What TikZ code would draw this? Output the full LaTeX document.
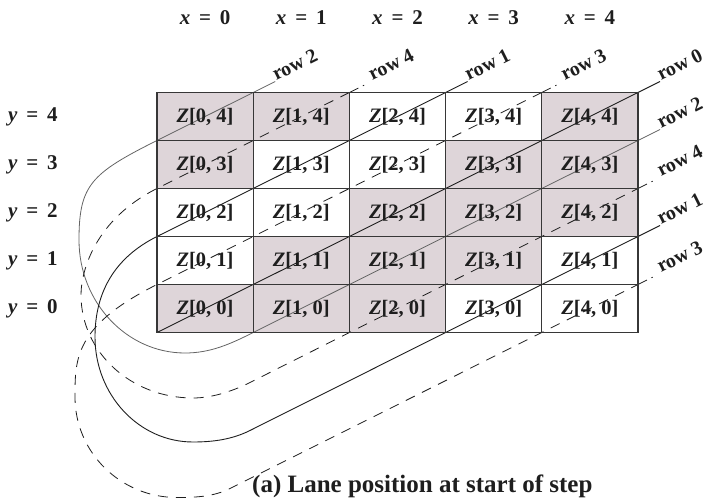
\documentclass[tikz,border=0pt]{standalone}
\usepackage{fontspec}
\setmainfont{Liberation Serif}
\usetikzlibrary{calc}
\definecolor{cellshade}{RGB}{222,213,217}
\definecolor{gridc}{RGB}{55,55,55}
\definecolor{grayline}{RGB}{100,100,100}
\definecolor{inkc}{RGB}{30,30,30}
\begin{document}
\begin{tikzpicture}[x=1pt,y=-1pt,
  lanecell/.style={draw=gridc,line width=1.2pt,minimum width=96.2pt,minimum height=48pt,inner sep=0pt,font=\fontsize{20.5}{21}\selectfont\bfseries,text=inkc},
  hdr/.style={font=\fontsize{21}{22}\selectfont\bfseries,text=inkc,inner sep=0pt},
  rowlbl/.style={font=\fontsize{20}{21}\selectfont\bfseries,text=inkc,rotate=26.5,anchor=base west,inner sep=1pt},
  solidrow/.style={inkc,line width=0.9pt},
  grayrow/.style={grayline,line width=0.8pt},
  dashrow/.style={inkc,line width=0.8pt,dash pattern=on 10pt off 8pt},
  dashext/.style={inkc,line width=0.8pt,dash pattern=on 10pt off 5pt on 1.5pt off 20pt},
  captxt/.style={font=\fontsize{25}{27}\selectfont\bfseries,text=inkc,inner sep=0pt,anchor=base west}
]
\useasboundingbox (0,0) rectangle (707,502);
% grid corners
\foreach \i in {0,...,5}{\foreach \j in {0,...,5}{
  \coordinate (g-\i-\j) at ({157+96.2*\i},{332.5-48*\j});}}
% shaded lanes
\foreach \i/\j in {0/4,1/4,4/4,0/3,3/3,4/3,2/2,3/2,4/2,1/1,2/1,3/1,0/0,1/0,2/0}{
  \fill[cellshade] ({157+96.2*\i},{332.5-48*\j}) rectangle ++(96.2,-48);}
% line ends outside the grid
\coordinate (e-R0) at ($(g-5-5)+(22,-11)$);
\coordinate (e-R2) at ($(g-5-4)+(22,-11)$);
\coordinate (e-R4) at ($(g-5-3)+(22,-11)$);
\coordinate (e-R1) at ($(g-5-2)+(22,-11)$);
\coordinate (e-R3) at ($(g-5-1)+(22,-11)$);
\coordinate (e-T2) at ($(g-1-5)+(22,-11)$);
\coordinate (e-T4) at ($(g-2-5)+(22,-11)$);
\coordinate (e-T1) at ($(g-3-5)+(22,-11)$);
\coordinate (e-T3) at ($(g-4-5)+(22,-11)$);
% row 0
\draw[solidrow] (g-0-0) -- (g-5-5) -- (e-R0);
% row 2 (gray)
\draw[grayrow] (e-T2) -- (g-1-5) -- (g-0-4)
  .. controls (91,173.5) and (79,185) .. (79,240)
  .. controls (79,302) and (126.5,353) .. (185,353)
  .. controls (210,353) and (229.5,344.5) .. (g-1-0) -- (g-5-4) -- (e-R2);
% row 4 (dashed)
\draw[dashrow] (g-2-5) -- (g-0-3)
  .. controls (95.6,219.2) and (81,270.3) .. (81,295)
  .. controls (81,352) and (131,398) .. (193,398)
  .. controls (213,398) and (234,390.5) .. (250,382.5) -- (g-2-0) -- (g-5-3);
\draw[dashext] (g-5-3) -- (e-R4);
\draw[dashext] (g-2-5) -- (e-T4);
% row 1 (solid)
\draw[solidrow] (e-T1) -- (g-3-5) -- (g-0-2)
  .. controls (114.4,257.8) and (95,292.4) .. (95,337)
  .. controls (95,395) and (139,442) .. (193,442)
  .. controls (213,442) and (232,439.5) .. (250,430.5) -- (g-3-0) -- (g-5-2) -- (e-R1);
% row 3 (dashed)
\draw[dashrow] (g-4-5) -- (g-0-1)
  .. controls (74.4,325.8) and (75,359) .. (75,397)
  .. controls (75,452.5) and (120.7,497.5) .. (177,497.5)
  .. controls (197,497.5) and (214,496.5) .. (230,488.5) -- (g-4-0) -- (g-5-1);
\draw[dashext] (g-5-1) -- (e-R3);
\draw[dashext] (g-4-5) -- (e-T3);
% lanes
\foreach \i in {0,...,4}{\foreach \j in {0,...,4}{
  \node[lanecell] (z-\i-\j) at ({205.1+96.2*\i},{308.5-48*\j}) {\textit{Z}[\i, \j]};}}
% headers
\foreach \i in {0,...,4}{
  \node[hdr,anchor=base] (hx-\i) at ({205.1+96.2*\i},25) {\textit{x}\hspace{0.42em}=\hspace{0.42em}\i};}
\foreach \j in {0,...,4}{
  \node[hdr,anchor=base west] (hy-\j) at (8,{313.5-48*\j}) {\textit{y}\hspace{0.42em}=\hspace{0.42em}\j};}
% row labels
\node[rowlbl] (l-R0) at (e-R0) {row 0};
\node[rowlbl] (l-R2) at (e-R2) {row 2};
\node[rowlbl] (l-R4) at (e-R4) {row 4};
\node[rowlbl] (l-R1) at (e-R1) {row 1};
\node[rowlbl] (l-R3) at (e-R3) {row 3};
\node[rowlbl] (l-T2) at (e-T2) {row 2};
\node[rowlbl] (l-T4) at (e-T4) {row 4};
\node[rowlbl] (l-T1) at (e-T1) {row 1};
\node[rowlbl] (l-T3) at (e-T3) {row 3};
% caption
\node[captxt] (cap) at (252,492) {(a) Lane position at start of step};
\end{tikzpicture}
\end{document}
